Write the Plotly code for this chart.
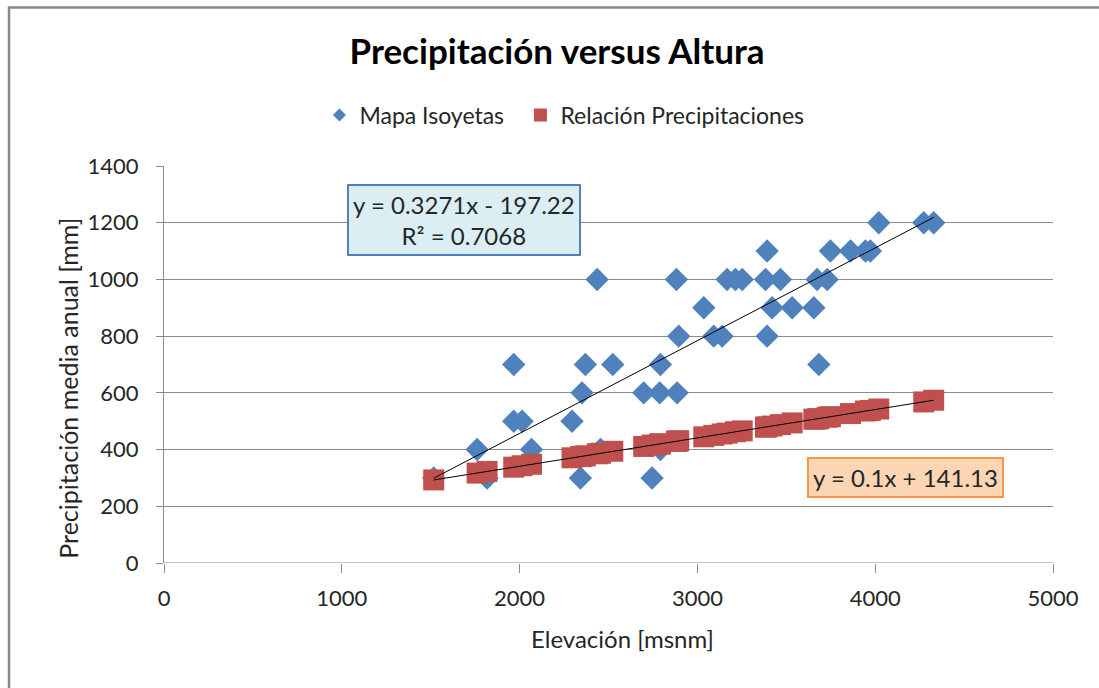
import plotly.graph_objects as go

# ---- data ----
iso_x = [1517, 1761, 1817, 1967, 1967, 2014, 2067, 2295, 2342, 2351, 2370, 2436, 2455,
         2524, 2698, 2745, 2788, 2792, 2792, 2882, 2886, 2895, 3036, 3092, 3139, 3167,
         3214, 3252, 3383, 3392, 3392, 3420, 3467, 3533, 3655, 3673, 3683, 3730, 3748,
         3861, 3945, 3973, 4020, 4273, 4329]
iso_y = [300, 400, 300, 700, 500, 500, 400, 500, 300, 600, 700, 1000, 400,
         700, 600, 300, 600, 700, 400, 1000, 600, 800, 900, 800, 800, 1000,
         1000, 1000, 1000, 1100, 800, 900, 1000, 900, 900, 1000, 700, 1000, 1100,
         1100, 1100, 1100, 1200, 1200, 1200]

rel_x = [1517, 1761, 1817, 1967, 2014, 2067, 2295, 2342, 2351, 2370, 2436, 2455, 2524,
         2698, 2745, 2788, 2792, 2882, 2886, 2895, 3036, 3092, 3139, 3167, 3214, 3252,
         3383, 3392, 3420, 3467, 3533, 3655, 3673, 3683, 3730, 3748, 3861, 3945, 3973,
         4020, 4273, 4329]
rel_y = [293, 317, 323, 338, 343, 348, 371, 375, 376, 378, 385, 387, 394,
         411, 416, 420, 420, 429, 430, 431, 445, 450, 455, 458, 463, 466,
         479, 480, 483, 488, 494, 507, 508, 509, 514, 516, 527, 536, 538,
         543, 568, 574]

iso_slope, iso_intercept, iso_r2 = 0.3271, -197.22, 0.7068
rel_slope, rel_intercept = 0.1, 141.13

x_ticks = [0, 1000, 2000, 3000, 4000, 5000]
y_ticks = [0, 200, 400, 600, 800, 1000, 1200, 1400]

title_text = "Precipitación versus Altura"
x_title = "Elevación [msnm]"
y_title = "Precipitación media anual [mm]"
iso_name = "Mapa Isoyetas"
rel_name = "Relación Precipitaciones"

BLUE = "#4F81BD"
RED = "#C0504D"
FONT = "Lato"
GRID = "#8C8C8C"
TXT = "#262626"

fig = go.Figure()

fig.add_trace(go.Scatter(x=iso_x, y=iso_y, mode="markers", showlegend=False,
                         marker=dict(symbol="diamond", size=18, color=BLUE,
                                     line=dict(width=0))))
fig.add_trace(go.Scatter(x=rel_x, y=rel_y, mode="markers", showlegend=False,
                         marker=dict(symbol="square", size=21, color=RED,
                                     line=dict(width=0))))

# trendlines
ix = [min(iso_x), max(iso_x)]
rx = [min(rel_x), max(rel_x)]
fig.add_trace(go.Scatter(x=ix, y=[iso_slope * v + iso_intercept for v in ix], mode="lines",
                         line=dict(color="black", width=1), showlegend=False, hoverinfo="skip"))
fig.add_trace(go.Scatter(x=rx, y=[rel_slope * v + rel_intercept for v in rx], mode="lines",
                         line=dict(color="black", width=1), showlegend=False, hoverinfo="skip"))

# legend entries (two legends for exact placement)
fig.add_trace(go.Scatter(x=[None], y=[None], mode="markers", name=iso_name, legend="legend",
                         marker=dict(symbol="diamond", size=10, color=BLUE)))
fig.add_trace(go.Scatter(x=[None], y=[None], mode="markers", name=rel_name, legend="legend2",
                         marker=dict(symbol="square", size=13, color=RED)))

# plot area in px
L, R, T, B = 163.5, 1052.7, 166.0, 562.7
W, H = 1099, 688

def px_x(p):
    return (p - L) / (R - L)

def px_y(p):
    return (B - p) / (B - T)

leg_common = dict(orientation="h", xanchor="left", y=px_y(115), yanchor="middle",
                  font=dict(size=23, color=TXT), itemwidth=30,
                  bgcolor="rgba(0,0,0,0)")

fig.update_layout(
    width=W, height=H,
    margin=dict(l=L, r=W - R, t=T, b=H - B, pad=0),
    paper_bgcolor="white", plot_bgcolor="white",
    font=dict(family=FONT, size=22, color=TXT),
    title=dict(text="<b>" + title_text + "</b>", x=557 / W, xanchor="center",
               y=1 - 52 / H, yanchor="middle", font=dict(size=35, color="black")),
    legend=dict(x=px_x(319), **leg_common),
    legend2=dict(x=px_x(520), **leg_common),
    xaxis=dict(range=[0, 5000], tickvals=x_ticks, showgrid=False, zeroline=False,
               showline=False, ticks="outside", ticklen=9, tickcolor=GRID,
               ticklabelstandoff=7, tickfont=dict(size=22)),
    yaxis=dict(range=[0, 1400], tickvals=y_ticks, showgrid=True, gridcolor=GRID, gridwidth=1,
               zeroline=False, showline=True, linecolor=GRID, linewidth=1,
               ticks="outside", ticklen=7, tickcolor=GRID, ticklabelstandoff=13,
               tickfont=dict(size=22)),
)

# bottom axis line
fig.add_shape(type="line", xref="x", yref="y", x0=0, x1=5000, y0=0, y1=0,
              line=dict(color=GRID, width=1), layer="below")

# axis titles
fig.add_annotation(text=x_title, xref="paper", yref="paper", x=px_x(622), y=px_y(638),
                   showarrow=False, font=dict(size=24, color=TXT),
                   xanchor="center", yanchor="middle")
fig.add_annotation(text=y_title, xref="paper", yref="paper", x=px_x(68), y=px_y(388),
                   showarrow=False, textangle=-90, font=dict(size=25, color=TXT),
                   xanchor="center", yanchor="middle")

# equation boxes
fig.add_annotation(text="y = %.4fx - %.2f<br>R² = %.4f" % (iso_slope, -iso_intercept, iso_r2),
                   xref="paper", yref="paper", x=px_x(463.5), y=px_y(220),
                   showarrow=False, align="center", font=dict(size=24, color=TXT),
                   bgcolor="#DBEEF4", bordercolor=BLUE, borderwidth=2, borderpad=4,
                   xanchor="center", yanchor="middle")
fig.add_annotation(text="y = %.1fx + %.2f" % (rel_slope, rel_intercept),
                   xref="paper", yref="paper", x=px_x(905), y=px_y(477),
                   showarrow=False, align="center", font=dict(size=24, color=TXT),
                   bgcolor="#FCD5B5", bordercolor="#F79646", borderwidth=2, borderpad=4,
                   xanchor="center", yanchor="middle")

# chart frame
fig.add_shape(type="rect", xref="paper", yref="paper",
              x0=px_x(8.5), x1=px_x(1110), y0=px_y(7.5), y1=px_y(700),
              line=dict(color="#888888", width=2.5), layer="below")

fig.write_html("out.html", config={"displayModeBar": False},
               post_script="document.body.style.margin='0px';")
